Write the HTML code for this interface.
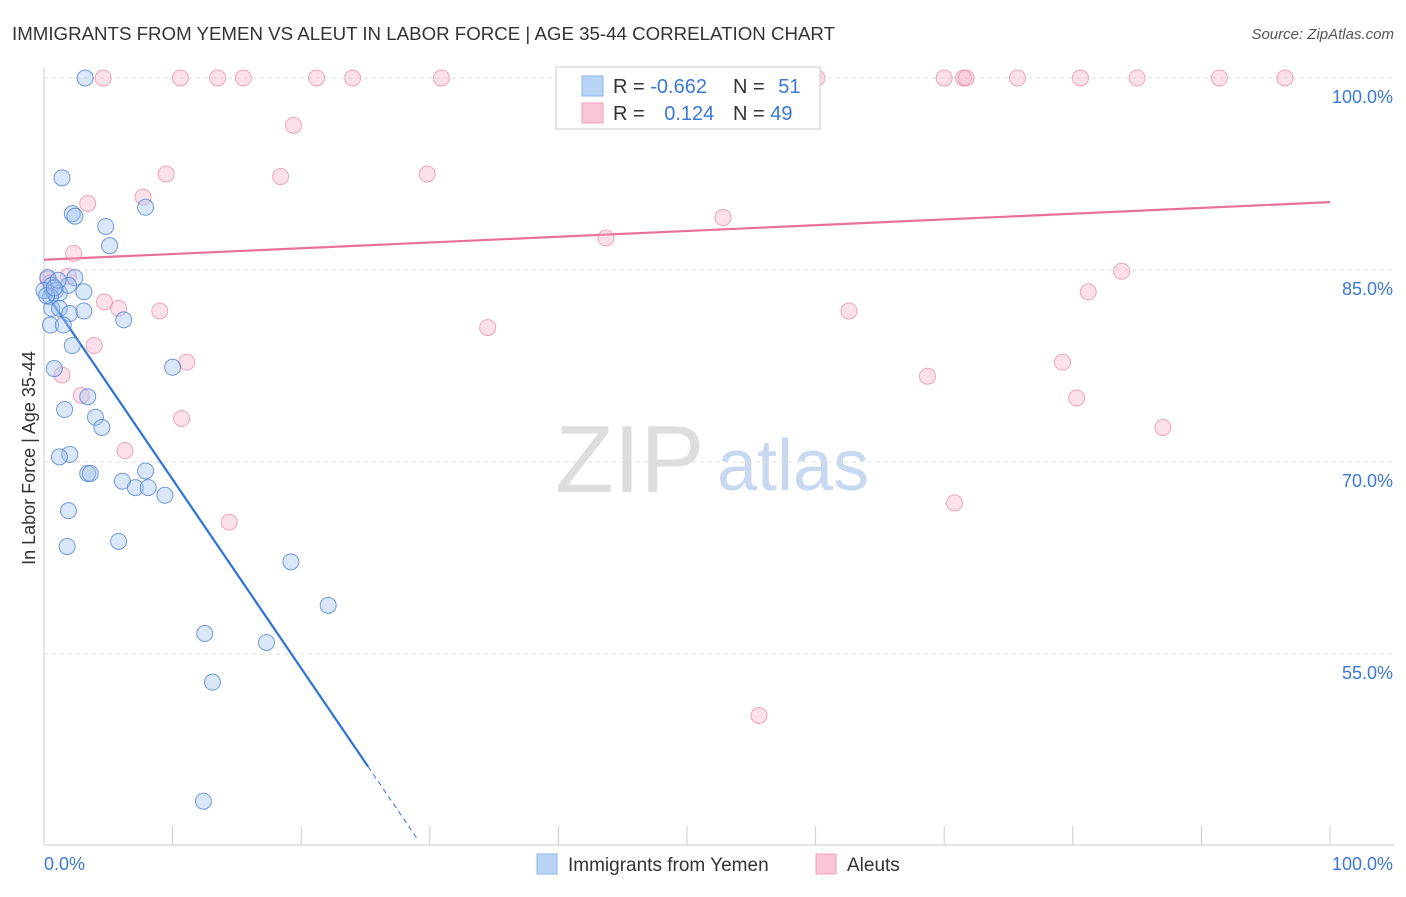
<!DOCTYPE html>
<html><head><meta charset="utf-8">
<style>
body{margin:0;background:#fff;font-family:"Liberation Sans",sans-serif;}
svg text{font-family:"Liberation Sans",sans-serif;}
</style></head><body>
<svg id="chart" width="1406" height="892" viewBox="0 0 1406 892" xmlns="http://www.w3.org/2000/svg">
<text x="12" y="40" font-size="18" fill="#333" textLength="823" lengthAdjust="spacingAndGlyphs">IMMIGRANTS FROM YEMEN VS ALEUT IN LABOR FORCE | AGE 35-44 CORRELATION CHART</text>
<text x="1394" y="39" font-size="15" fill="#555" font-style="italic" text-anchor="end">Source: ZipAtlas.com</text>
<text x="35" y="458" font-size="18" fill="#333" text-anchor="middle" transform="rotate(-90 35 458)">In Labor Force | Age 35-44</text>
<g>
<text x="555" y="492" font-size="96" fill="#ddd" font-family="Liberation Serif">ZIP</text>
<text x="717" y="490" font-size="72" fill="#c8d8f0">atlas</text>
</g>
<g id="grid"></g>
<g id="axes"></g>
<g id="lines"></g>
<g id="pts"></g>
<g>
<rect x="556" y="67" width="264" height="62" fill="#fff" stroke="#ccc"/>
<rect x="582" y="76" width="21" height="20" fill="#b8d3f5" stroke="#8ab4ea"/>
<rect x="582" y="103" width="21" height="20" fill="#f9c6d6" stroke="#f0a0b8"/>
<text x="613" y="93" font-size="20" fill="#333">R = <tspan fill="#3a78d6">-0.662</tspan></text>
<text x="733" y="93" font-size="20" fill="#333">N = <tspan fill="#3a78d6" dx="8">51</tspan></text>
<text x="613" y="120" font-size="20" fill="#333">R = <tspan fill="#3a78d6" dx="14">0.124</tspan></text>
<text x="733" y="120" font-size="20" fill="#333">N = <tspan fill="#3a78d6">49</tspan></text>
</g>
<g>
<rect x="537" y="854" width="20" height="20" fill="#b8d3f5" stroke="#8ab4ea"/>
<text x="568" y="871" font-size="19" fill="#333">Immigrants from Yemen</text>
<rect x="816" y="854" width="20" height="20" fill="#f9c6d6" stroke="#f0a0b8"/>
<text x="847" y="871" font-size="19" fill="#333">Aleuts</text>
</g>
</svg>
<script>
const yTicks=[100,85,70,55];
const yTickLabels=["100.0%","85.0%","70.0%","55.0%"];
const blueX=[3.2,1.4,2.2,2.4,4.8,7.9,5.1,0.3,2.4,0.6,0.9,1.2,0.5,3.1,1.9,0.6,1.2,2.0,3.1,6.2,0.5,1.5,2.2,0.8,10.0,3.4,1.6,4.0,4.5,2.0,1.2,3.4,3.6,7.9,6.1,7.1,8.1,9.4,1.9,5.8,1.8,19.2,22.1,12.5,17.3,13.1,12.4,0,1.1,0.2,0.8];
const blueY=[100,92.2,89.4,89.2,88.4,89.9,86.9,84.4,84.4,83.8,83.4,83.2,82.9,83.3,83.8,82.0,82.0,81.6,81.8,81.1,80.7,80.7,79.1,77.3,77.4,75.1,74.1,73.5,72.7,70.6,70.4,69.1,69.1,69.3,68.5,68.0,68.0,67.4,66.2,63.8,63.4,62.2,58.8,56.6,55.9,52.8,43.5,83.4,84.2,83.0,83.6];
const pinkX=[4.6,10.6,13.5,15.5,21.2,24.0,30.9,56.5,60.1,70.0,71.5,71.7,75.7,80.6,85.0,91.4,96.5,19.4,9.5,18.4,29.8,7.7,3.4,52.8,43.7,2.3,83.8,1.9,0.3,81.2,4.7,5.8,9.0,62.6,34.5,3.9,11.1,1.4,79.2,68.7,2.9,80.3,10.7,87.0,6.3,14.4,70.8,55.6,0.5];
const pinkY=[100,100,100,100,100,100,100,100,100,100,100,100,100,100,100,100,100,96.3,92.5,92.3,92.5,90.7,90.2,89.1,87.5,86.3,84.9,84.5,84.3,83.3,82.5,82.0,81.8,81.8,80.5,79.1,77.8,76.8,77.8,76.7,75.2,75.0,73.4,72.7,70.9,65.3,66.8,50.2,84.0];
const blueTrend=[83.4,-1.476];
const pinkTrend=[85.8,0.045];
const X=v=>44+v*12.86, Y=v=>78+(100-v)*12.8;
const NS="http://www.w3.org/2000/svg";
function mk(t,a,p){const e=document.createElementNS(NS,t);for(const k in a)e.setAttribute(k,a[k]);p.appendChild(e);return e;}
const grid=document.getElementById('grid'),axes=document.getElementById('axes'),lines=document.getElementById('lines'),pts=document.getElementById('pts');
yTicks.forEach((t,i)=>{
 const g=mk('line',{x1:44,x2:1394,y1:Y(t),y2:Y(t),stroke:'#ddd','stroke-dasharray':'4,4'},grid);
 
 
 const tx=mk('text',{x:1393,y:Y(t)+25,'font-size':18,fill:'#3a78d6','text-anchor':'end'},axes);
 tx.textContent=yTickLabels[i];
 
 
});
const ax=mk('line',{x1:44,x2:1394,y1:845,y2:845,stroke:'#ccc'},axes);


const ay=mk('line',{x1:44,x2:44,y1:68,y2:845,stroke:'#ccc'},axes);


for(let i=1;i<=10;i++){const tk=mk('line',{x1:X(i*10),x2:X(i*10),y1:826,y2:845,stroke:'#ccc'},axes);
 
 }
const xl0=mk('text',{x:44,y:870,'font-size':18,fill:'#3a78d6'},axes);xl0.textContent='0.0%';


const xl1=mk('text',{x:1393,y:870,'font-size':18,fill:'#3a78d6','text-anchor':'end'},axes);xl1.textContent='100.0%';


pinkX.forEach((x,i)=>{const c=mk('circle',{cx:X(x),cy:Y(pinkY[i]),r:8,fill:'rgba(246,170,195,0.35)',stroke:'rgba(232,130,165,0.7)','stroke-width':1},pts);
 
 });
blueX.forEach((x,i)=>{const c=mk('circle',{cx:X(x),cy:Y(blueY[i]),r:8,fill:'rgba(160,195,240,0.4)',stroke:'rgba(80,130,210,0.8)','stroke-width':1},pts);
 
 });
const pl=mk('line',{x1:X(0),y1:Y(pinkTrend[0]),x2:X(100),y2:Y(pinkTrend[0]+pinkTrend[1]*100),stroke:'#e8709a','stroke-width':2.2},lines);


const bx1=25.2,bx2=29.0;
const bl=mk('line',{x1:X(0),y1:Y(blueTrend[0]),x2:X(bx1),y2:Y(blueTrend[0]+blueTrend[1]*bx1),stroke:'#2d72d9','stroke-width':2.2},lines);


const bd=mk('line',{x1:X(bx1),y1:Y(blueTrend[0]+blueTrend[1]*bx1),x2:X(bx2),y2:Y(blueTrend[0]+blueTrend[1]*bx2),stroke:'#2d72d9','stroke-width':1,'stroke-dasharray':'5,4'},lines);


</script>
</body></html>
